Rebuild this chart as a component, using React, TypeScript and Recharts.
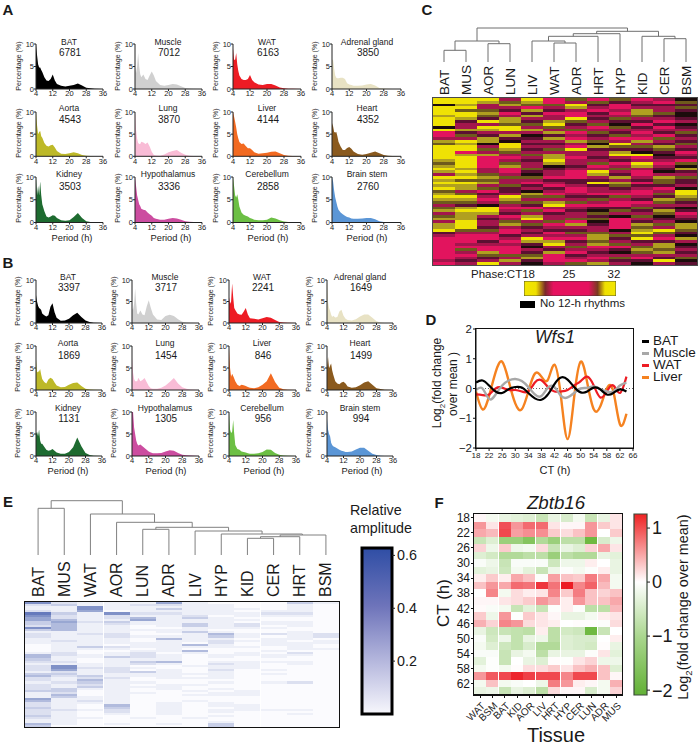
import React from 'react';
import { AreaChart, Area, BarChart, Bar, Cell, LineChart, Line, XAxis, YAxis, ReferenceLine } from 'recharts';

const FONT = '"Liberation Sans", Arial, sans-serif';
const INK = '#1a1a1a';

// ---------- Panels A / B : period histograms ----------
const periods = [4, 4.5, 5, 5.5, 6, 6.5, 7, 8, 9, 10, 11, 12, 13, 14, 16, 18, 20, 22, 24, 26, 28, 30, 32, 36];
const tissueNames = ['BAT', 'Muscle', 'WAT', 'Adrenal gland', 'Aorta', 'Lung', 'Liver', 'Heart', 'Kidney', 'Hypothalamus', 'Cerebellum', 'Brain stem'];
const tissueColors = ['#000000', '#d0d0d0', '#ed1c24', '#e8e2c4', '#bdb928', '#f9bcd6', '#f26a21', '#8a5a1e', '#1e6b30', '#cc4da0', '#6cbf44', '#5b96d6'];
const aCounts = [6781, 7012, 6163, 3850, 4543, 3870, 4144, 4352, 3503, 3336, 2858, 2760];
const bCounts = [3397, 3717, 2241, 1649, 1869, 1454, 846, 1499, 1131, 1305, 956, 994];

const aBAT = [10, 7.5, 5.5, 4.8, 4.8, 4.2, 3.8, 2.6, 1.9, 1.8, 2.2, 3.2, 1.9, 1.1, .7, .55, .7, .9, 1.2, .8, .3, .15, .05, 0];
const aMuscle = [5, 3.5, 5, 8, 5, 3.3, 2.6, 3.2, 2.2, 2, 3, 3.9, 3, 1.8, .9, .7, .9, 1.1, 1, .6, .25, .1, .05, 0];
const aWAT = [9, 6.5, 6.5, 8, 5.5, 4, 3, 2.2, 2, 2, 2.2, 3.1, 2, 1.5, 1, .9, 1.1, 1.1, .8, .35, .15, .08, .03, 0];
const aAdrenal = [6.5, 6.5, 4.5, 3, 2.5, 2.4, 2.4, 2.5, 2.5, 2.2, 1.3, 1, .9, .7, .7, .8, 1, 1.1, .8, .25, .1, .05, 0, 0];
const aAorta = [10, 7, 5, 5.5, 5.7, 4.5, 4.2, 3, 2.4, 2.2, 2.5, 2.6, 2, 1.2, .6, .5, .7, .9, .7, .3, .1, .05, 0, 0];
const aLung = [10, 6, 4, 3, 2.8, 2.8, 3.3, 3.1, 2.8, 3.1, 2.2, 1, .3, .2, .1, .4, .9, 1.2, 1.4, .8, .35, .15, .05, 0];
const aLiver = [10, 9, 7.8, 6.5, 5, 4, 3.2, 2.8, 2.9, 2.3, 1.8, 1.8, 1.4, .9, .6, .7, .8, 1, 1.1, .7, .3, .15, .05, 0];
const aHeart = [7.5, 6.8, 5.5, 5.4, 5.5, 4.5, 3.3, 2.2, 1.4, 1.4, 1.9, 2.1, 1.7, 1.1, .5, .35, .5, .8, 1.1, .7, .3, .15, .05, 0];
const aKidney = [10, 6, 8, 6, 9, 6, 4, 2.5, 1.3, 1.1, 1.3, 1.6, 1.5, 1, .5, .4, .5, 1.2, 2.1, 1, .3, .1, .05, 0];
const aHypo = [10, 8, 6, 5, 4, 3.6, 3, 2.8, 2.7, 2.2, 1.8, 1.5, 1, .8, .6, .6, .8, 1, .9, .6, .3, .15, .1, 0];
const aCereb = [10, 8, 6, 5.5, 6.2, 5, 3.5, 2.2, 1.7, 1.5, 1.3, 1, .8, .6, .5, .5, .6, 1.1, .9, .5, .2, .1, .05, 0];
const aBrain = [10, 9, 7, 5.5, 4.5, 3.5, 2.8, 2.2, 1.8, 1.5, 1.2, 1.1, .9, .8, .8, .9, 1, 1, .7, .3, .1, .05, 0, 0];
const aSeries = [aBAT, aMuscle, aWAT, aAdrenal, aAorta, aLung, aLiver, aHeart, aKidney, aHypo, aCereb, aBrain];

const bBAT = [6.5, 5, 4, 3.5, 3.3, 3, 2.2, 1.8, 1.5, 1.8, 3.8, 4.6, 2.5, 1.2, .5, .6, 1, 1.8, 2.4, 1.4, .6, .25, .05, 0];
const bMuscle = [3.5, 3, 4.5, 8, 4.5, 2.2, 2, 2.9, 2, 1.8, 3.8, 5.3, 3.5, 2, .8, .7, 1.6, 1.9, 1.6, .9, .3, .1, .03, 0];
const bWAT = [6, 4.5, 5, 9.2, 6, 3.5, 3, 2.2, 2, 1.9, 2.6, 3.5, 2, 1.1, 1, .8, 1.1, 1.4, 1.2, .7, .25, .1, .03, 0];
const bAdrenal = [10, 5, 3.5, 2.8, 2, 1.4, 1.7, 1.3, 1.4, 2.7, 3.1, 1.7, 1, .7, .6, .9, 1.5, 2, 2, 1.2, .4, .1, 0, 0];
const bAorta = [7, 4, 4.2, 4.2, 4.8, 3.5, 2.5, 1.8, 1.5, 2.4, 2.8, 2.5, 1.7, 1, .6, .7, 1.2, 1.6, 1.7, .9, .3, .1, .05, 0];
const bLung = [7.5, 4, 2.5, 2, 2, 2, 2.8, 2, 2.3, 2.7, 1.8, .9, .4, .3, .3, .5, 1, 1.8, 2.7, 1.5, .6, .3, .1, 0];
const bLiver = [9.5, 5, 3, 3.7, 3.2, 2.6, 2, 1.2, .9, 1.2, 1.1, .9, .7, .5, .4, .6, 1.2, 2, 3.8, 1.8, .5, .15, .05, 0];
const bHeart = [5, 7.5, 5, 5.5, 6, 4.5, 3.5, 2, 1.5, 1.3, 1.7, 1.9, 1.5, .8, .5, .6, 1.1, 1.7, 2, 1.2, .4, .2, .05, 0];
const bKidney = [5, 5.5, 4.5, 6, 3.5, 2.8, 2.8, 2.1, 1.4, 1.2, 1.3, 1.6, 1.2, .8, .5, .5, .9, 2, 4.2, 2.2, .7, .2, .05, 0];
const bHypo = [10, 10, 6.5, 5, 3.5, 2.8, 2.4, 2.6, 2.2, 1.8, 1.4, 1, .8, .6, .6, .7, 1, 1.3, 1.2, .7, .3, .15, .1, 0];
const bCereb = [10, 6, 5.2, 5.5, 8.2, 5, 2.5, 1.6, 1.4, 1, .9, .8, .6, .5, .5, .6, .9, 1.5, 1.4, .7, .3, .1, .03, 0];
const bBrain = [8.5, 6, 5, 4.5, 3, 2.5, 2.2, 2, 1.7, 1.4, 1.2, 1.1, .9, .9, 1, 1.5, 1.9, 1.9, 1.2, .5, .2, .05, 0, 0];
const bSeries = [bBAT, bMuscle, bWAT, bAdrenal, bAorta, bLung, bLiver, bHeart, bKidney, bHypo, bCereb, bBrain];

const aColX = [[36, 103], [135, 202], [233, 301], [332, 401]];
const aRowY = [[44, 89], [111.7, 156], [176.5, 222]];
const aTitleX = [69, 168, 267, 367];
const aTitleY = [42, 108, 174];
const aCountY = [53, 120, 187];
const aPeriodX = [72, 171, 268, 367];
const bColX = [[36, 102], [132, 199], [229, 296], [327, 393]];
const bRowY = [[280, 323], [346, 390], [412, 456]];
const bTitleX = [68, 165, 262, 360];
const bTitleY = [277, 343, 408];
const bCountY = [288, 356, 419];
const bPeriodX = [68, 166, 264, 362];

// ---------- Panel C : phase heat map (one code per gene row, per tissue) ----------
const cTissues = ['BAT', 'MUS', 'AOR', 'LUN', 'LIV', 'WAT', 'ADR', 'HRT', 'HYP', 'KID', 'CER', 'BSM'];
const phaseBAT = 'YYkYYYoYYYkYppmogYYYYYogoYomYo' + 'YoYgoYogmgomgomooYdmppppppppmp';
const phaseMUS = 'YYoYgYYodmmodgmYoYYpoYYYYoYoYg' + 'YoomgYogdoYoooYYYgmpppmpgmpmdm';
const phaseAOR = 'YommgogdYmYomdookmgmoppppmmgog' + 'omgpdmpmkYYomdmmdgmppdmppogdmY';
const phaseLUN = 'mgomdpmoogYYmodkYYogmpmgoppmgm' + 'mgddmYogmpmdpmgomppdmpmpppgmom';
const phaseLIV = 'Yogpodomdgmomkdmdmdmgmdmmgdkgm' + 'pdmkogmgdpgmoYmgdmdmYodkmdgodk';
const phaseWAT = 'ppgmdpmmoYgmodomdmgmooYokdmmpd' + 'mpdmpgmoYmpdmmgpmdpmpoYmdopppm';
const phaseADR = 'gmYomppYgdmgpmpompYmmpmmdmpppd' + 'dmppmdmgpmdmmgpomdgmpdmgmpdmpg';
const phaseHRT = 'pgdmpdmdmgpmgdmgkodmmdmgpmYomd' + 'Ydmmpdgmpdkgdgkdmmgoogopmdmpmo';
const phaseHYP = 'gdppmpmgdkgmdgpmYgdoYmdpmgmdom' + 'ogdmpgmppdgmkppppkmgdmgpdkmgdm';
const phaseKID = 'pmdmoogmdpdmpmpomgdkYpmYomppmd' + 'pdmppmdpmgdmgmdogoYgYdmgogmpdk';
const phaseCER = 'mpdmmgdmpdpmdpgmdogdkdmpmdkmog' + 'gdpmgdogmdogkdmgmYgmpdoogomdYm';
const phaseBSM = 'kgdgdkkdmkdmgdmdgmdpmdpgkodmgd' + 'dmkYYogdmkdpmdkoogdkomkdmdmgkd';
const phaseColumns = [phaseBAT, phaseMUS, phaseAOR, phaseLUN, phaseLIV, phaseWAT, phaseADR, phaseHRT, phaseHYP, phaseKID, phaseCER, phaseBSM];
const phaseFill: Record<string, string> = { Y: '#efe204', o: '#b0a020', g: '#6e5a1c', k: '#1c0c0c', d: '#5c1032', m: '#a3164c', p: '#e2145e' };
const cLinks = [[0, 0, 1, 0, 11.7], [2, 0, 3, 0, 18.3], [.5, 11.7, 2.5, 18.3, 21], [5, 0, 6, 0, 19], [4, 0, 5.5, 19, 21], [4.75, 21, 7, 0, 25.7], [5.875, 25.7, 8, 0, 28.3], [10, 0, 11, 0, 23.3], [9, 0, 10.5, 23.3, 25.7], [6.94, 28.3, 9.75, 25.7, 30.7], [1.5, 21, 8.34, 30.7, 34]];

// ---------- Panel D : Wfs1 ----------
const dCT = [18, 20, 22, 24, 26, 28, 30, 32, 34, 36, 38, 40, 42, 44, 46, 48, 50, 52, 54, 56, 58, 60, 62, 64];
const dBAT = [.2, .27, .1, -.1, -.15, -.02, .05, .03, -.15, -.33, -.38, -.2, .15, .37, .3, .05, -.13, -.1, .03, -.03, -.2, -.15, -.03, -.1];
const dMuscle = [-.05, 0, -.35, -.2, .1, .27, .32, .25, .05, -.2, -.25, .03, .05, -.25, -.3, -.15, 0, .02, .07, -.02, -.1, -.1, .1, .2];
const dWAT = [-.2, -.22, -.2, 0, .03, -.05, -.05, -.1, -.1, .2, .28, .05, -.1, -.1, -.05, .1, .25, .4, .1, -.3, -.1, .1, -.15, .4];
const dLiver = [-.1, -.7, -.25, .55, .9, .25, -.5, -.7, -.1, .5, .4, .3, .8, -.3, -1.7, -.3, .9, .2, -.7, -.6, 0, -.1, -1.2, -.85];
const dTicksX = [18, 22, 26, 30, 34, 38, 42, 46, 50, 54, 58, 62, 66];
const dTicksY = [-2, -1, 0, 1, 2];
const dLegend = [['BAT', '#000000'], ['Muscle', '#a8a8a8'], ['WAT', '#ed1c24'], ['Liver', '#f58220']];
const dLegendY = [341, 353, 365, 377];

// ---------- Panel E : relative amplitude (level per row, tissue order below) ----------
const eTissues = ['BAT', 'MUS', 'WAT', 'AOR', 'LUN', 'ADR', 'LIV', 'HYP', 'KID', 'CER', 'HRT', 'BSM'];
const eRows = [
  '621115100031', '231122110010', '116111110010', '116113111010', '215011110110',
  '731622111220', '621211201110', '521241310000', '541151111000', '352311110110',
  '341211312110', '241101312010', '641100111100', '341111100000', '111101310010',
  '212200141212', '211211131012', '111104110110', '121101121101', '111111020111',
  '011011410110', '013211111010', '011101000011', '010011400100', '120120101020',
  '421121011110', '411321010100', '310111000000', '220134011110', '111121021010',
  '261100111000', '262210011000', '251201020100', '121231010000', '331111110100',
  '423111010000', '212201110000', '214100000000', '123110010120', '212101100000',
  '213111000000', '231101010000', '330100101000', '120110011000', '140100111000',
  '131100000000', '511100000000', '412100100000', '211101010000', '210401011000',
  '310301001000', '221201011110', '210201010000', '210101000010', '310000010000',
  '211010100000', '110000000000', '110000010000', '410101030000', '300000030000',
];
const eLinks = [[0, 0, 1, 0, 46.7], [4, 0, 5, 0, 25.7], [8, 0, 9, 0, 16.7], [8.5, 16.7, 10, 0, 18.3], [9.25, 18.3, 11, 0, 20], [7, 0, 10.1, 20, 21], [6, 0, 8.56, 21, 24], [4.5, 25.7, 7.28, 24, 27.7], [3, 0, 5.89, 27.7, 32.7], [2, 0, 4.45, 32.7, 41], [.5, 46.7, 3.22, 41, 54.3]];
const eBarTicks = [0.2, 0.4, 0.6];

// ---------- Panel F : Zbtb16 ----------
const fTissues = ['WAT', 'BSM', 'BAT', 'KID', 'AOR', 'LIV', 'HRT', 'HYP', 'CER', 'LUN', 'ADR', 'MUS'];
const fCT = [18, 20, 22, 24, 26, 28, 30, 32, 34, 36, 38, 40, 42, 44, 46, 48, 50, 52, 54, 56, 58, 60, 62, 64];
const fRows = [
  [.05, -.1, -.2, -.25, -.3, -.5, -.2, -.35, -.1, -.5, -.2, .15],
  [.6, .15, 1, .6, .85, .85, .15, .05, .05, .6, .3, .15],
  [.5, .4, 1.05, .55, .65, .65, .3, .2, .35, .6, 0, .3],
  [-.5, -.3, -.9, -.9, -1.1, -.7, -.9, -.6, -.6, -1.3, -.35, -.15],
  [.25, -.15, .3, -.15, -.1, .2, -.5, -.2, -.3, .25, .5, .15],
  [-.3, -.4, -.7, -.7, -.6, -.6, -.9, -.6, -.7, -.7, -.2, -.25],
  [-.05, -.15, -.5, -.05, -.05, -.05, -.45, -.15, -.15, .1, 0, -.2],
  [-.25, -.2, -.45, -.1, -.25, -.5, -.15, -.03, -.1, -.03, .1, -.2],
  [.1, .3, .1, .5, .35, -.03, .55, .35, .3, .75, .5, -.1],
  [.35, .6, .5, .85, .8, 1.15, .8, 1.3, .7, .9, .4, -.1],
  [0, .7, -.1, .2, .1, .15, .7, .3, .75, .35, .25, .35],
  [.05, .05, .15, .2, .3, .6, .45, .1, .6, .35, .35, .5],
  [.03, -.05, -.1, -.5, -.25, -.5, -.02, .1, -.03, -.6, -.6, .4],
  [.3, -.15, .6, -.02, .3, .15, .05, -.2, -.2, -.1, .1, .15],
  [.45, .25, .7, .6, .2, .15, .1, 0, .02, .02, -.03, .2],
  [-.2, -.45, -.5, -.55, -.6, .1, -.6, -.4, -.45, -1.3, -.5, 0],
  [-.05, -.4, -.15, -.55, -.2, -.15, -.6, -.3, -.35, -.35, 0, .1],
  [-.1, -.3, -.45, -.55, -.35, -.7, -.7, -.3, -.35, -.4, .02, -.2],
  [-.05, -.05, -.5, -.2, -.1, -.6, -.2, -.2, -.2, -.03, .15, -.25],
  [-.25, -.02, -.5, 0, -.2, -.3, .02, -.02, .15, .25, -.15, -.15],
  [-.1, -.02, -.1, .02, .2, .2, .3, .15, .35, .45, .35, -.3],
  [.6, .95, 1.05, 1.25, 1.1, 1.05, 1.05, .7, 1.05, 1.05, .35, .05],
  [-.1, .35, -.1, -.05, 0, -.15, .75, .6, .1, .05, -.1, .45],
  [-.2, -.15, -.5, -.2, -.3, -.6, .2, .05, .05, -.35, -.1, .25],
];
const fBarTicks = [1, 0, -1, -2];

// ---------- helpers ----------
const mix = (a: number[], b: number[], t: number) => {
  const k = Math.max(0, Math.min(1, t));
  return `rgb(${a.map((v, i) => Math.round(v + (b[i] - v) * k)).join(',')})`;
};
const amplitudeFill = (level: number) => mix([251, 251, 254], [47, 75, 163], Math.pow(level / 9, 1.25));
const foldFill = (v: number) => (v >= 0 ? mix([255, 255, 255], [236, 28, 36], v / 1.3) : mix([255, 255, 255], [100, 180, 50], -v / 1.4));
const minus = (v: any) => String(v).replace('-', '\u2212');

function T({ x, y, size, children, rot = 0, anchor = 'middle', weight = 400, italic = false, lh = 1 }: any) {
  const tx = anchor === 'middle' ? '-50%' : '0';
  return (
    <div style={{ position: 'absolute', left: x, top: y, transform: `translate(${tx},-50%) rotate(${rot}deg)`, fontFamily: FONT, fontSize: size, lineHeight: lh, whiteSpace: 'nowrap', color: INK, fontWeight: weight, fontStyle: italic ? 'italic' : 'normal' }}>
      {children}
    </div>
  );
}
const Abs = ({ x, y, children }: any) => <div style={{ position: 'absolute', left: x, top: y }}>{children}</div>;
const Frame = ({ x, y, w, h, b, color }: any) => (
  <div style={{ position: 'absolute', left: x - b, top: y - b, width: w, height: h, border: `${b}px solid ${color}`, pointerEvents: 'none' }} />
);

function Mini({ xr, yr, color, values, title, count, tx, ty, cy, period, px, py, labelDx }: any) {
  const data = periods.map((p, i) => ({ p, v: values[i] }));
  const plotW = xr[1] - xr[0];
  const plotH = yr[1] - yr[0];
  const tick = { fontSize: 7.5, fontFamily: FONT, fill: INK };
  return (
    <>
      <Abs x={xr[0] - 26} y={yr[0] - 6}>
        <AreaChart width={26 + plotW + 10} height={6 + plotH + 15} data={data} margin={{ top: 6, right: 10, bottom: 0, left: 0 }}>
          <XAxis dataKey="p" type="number" domain={[4, 36]} ticks={[4, 12, 20, 28, 36]} interval={0} height={15} tick={tick} tickSize={2} tickMargin={0} stroke="#222" />
          <YAxis type="number" domain={[0, 10]} ticks={[0, 5, 10]} interval={0} width={26} tick={tick} tickSize={2} tickMargin={0} stroke="#222" />
          <Area dataKey="v" type="linear" fill={color} fillOpacity={1} stroke="none" isAnimationActive={false} dot={false} activeDot={false} />
        </AreaChart>
      </Abs>
      <T x={xr[0] - labelDx} y={(yr[0] + yr[1]) / 2 - 1} size={7.1} rot={-90}>Percentage (%)</T>
      <T x={tx} y={ty} size={8.5}>{title}</T>
      <T x={tx + 1} y={cy} size={10}>{count}</T>
      {period && <T x={px} y={py} size={9.3}>Period (h)</T>}
    </>
  );
}

const rotatedTop = (size: number, gap: number) => (p: any) => (
  <text x={p.x} y={p.y - gap} transform={`rotate(-90 ${p.x} ${p.y - gap})`} fontSize={size} fontFamily={FONT} fill={INK} textAnchor="start" dominantBaseline="central">
    {p.payload.value}
  </text>
);
const rotatedBottom = (p: any) => (
  <text x={p.x + 3} y={p.y + 4} transform={`rotate(-45 ${p.x + 3} ${p.y + 4})`} fontSize={10} fontFamily={FONT} fill={INK} textAnchor="end" dominantBaseline="central">
    {p.payload.value}
  </text>
);

function Heat({ cats, nRows, fill, w, h, top = 0, left = 0, bottom = 0, mt = 0, xAxis, yAxis }: any) {
  const keys = Array.from({ length: nRows }, (_, i) => `r${i}`);
  const data = cats.map((c: string) => {
    const o: any = { c };
    keys.forEach((k) => { o[k] = 1; });
    return o;
  });
  return (
    <BarChart width={left + w} height={mt + top + h + bottom} data={data} margin={{ top: mt, right: 0, bottom: 0, left: 0 }} barCategoryGap={0} style={{ shapeRendering: 'crispEdges' }}>
      {xAxis}
      {yAxis || <YAxis type="number" domain={[0, nRows]} reversed hide />}
      {keys.map((k, i) => (
        <Bar key={k} dataKey={k} stackId="s" isAnimationActive={false}>
          {cats.map((c: string, j: number) => <Cell key={c} fill={fill(i, j)} />)}
        </Bar>
      ))}
    </BarChart>
  );
}

function Dendro({ links, w, h, n, color }: any) {
  const segments = links.map((l: number[]) => [
    { x: l[0], y: l[1] }, { x: l[0], y: l[4] }, { x: l[2], y: l[4] }, { x: l[2], y: l[3] },
  ]);
  return (
    <LineChart width={w} height={h} margin={{ top: 0, right: 0, bottom: 0, left: 0 }}>
      <XAxis type="number" dataKey="x" domain={[-0.5, n - 0.5]} hide />
      <YAxis type="number" domain={[0, h]} hide />
      {segments.map((s: any, i: number) => (
        <Line key={i} data={s} dataKey="y" type="linear" stroke={color} strokeWidth={1} dot={false} activeDot={false} isAnimationActive={false} />
      ))}
    </LineChart>
  );
}

function VBar({ id, stops, lo, hi, ticks, w, h, axisW, font, stroke, sw, fmt }: any) {
  const pad = 2;
  const vPad = 10;
  return (
    <BarChart width={pad + w + axisW} height={h + vPad * 2} data={[{ n: 'scale', r: [lo, hi] }]} margin={{ top: vPad, right: 0, bottom: vPad, left: pad }} barCategoryGap={0}>
      <defs>
        <linearGradient id={id} x1="0" y1="0" x2="0" y2="1">
          {stops.map((s: any, i: number) => <stop key={i} offset={s[0]} stopColor={s[1]} />)}
        </linearGradient>
      </defs>
      <XAxis dataKey="n" hide />
      <YAxis orientation="right" type="number" domain={[lo, hi]} ticks={ticks} interval={0} width={axisW} axisLine={false} tick={{ fontSize: font, fontFamily: FONT, fill: INK }} tickSize={3} tickMargin={2} tickFormatter={fmt} stroke="#222" />
      <Bar dataKey="r" fill={`url(#${id})`} stroke={stroke} strokeWidth={sw} isAnimationActive={false} />
    </BarChart>
  );
}

const aPanels = tissueNames.map((t, i) => ({ t, i, col: i % 4, row: Math.floor(i / 4) }));

export default function App() {
  const dData = dCT.map((ct, i) => ({ ct, bat: dBAT[i], mus: dMuscle[i], wat: dWAT[i], liv: dLiver[i] }));
  const dTick = { fontSize: 8, fontFamily: FONT, fill: INK };
  return (
    <div style={{ position: 'absolute', left: 0, top: 0, width: 700, height: 745, overflow: 'hidden', background: '#fff', fontFamily: FONT }}>
      {/* Panel letters */}
      <T x={8} y={9} size={15} weight={700}>A</T>
      <T x={8} y={262} size={15} weight={700}>B</T>
      <T x={427} y={9} size={15} weight={700}>C</T>
      <T x={431} y={319} size={15} weight={700}>D</T>
      <T x={8} y={501} size={15} weight={700}>E</T>
      <T x={439} y={502} size={15} weight={700}>F</T>

      {/* A */}
      {aPanels.map(({ t, i, col, row }) => (
        <Mini key={`a${t}`} xr={aColX[col]} yr={aRowY[row]} color={tissueColors[i]} values={aSeries[i]} title={t} count={aCounts[i]}
          tx={aTitleX[col]} ty={aTitleY[row]} cy={aCountY[row]} period={row === 2} px={aPeriodX[col]} py={238.5} labelDx={16} />
      ))}
      {/* B */}
      {aPanels.map(({ t, i, col, row }) => (
        <Mini key={`b${t}`} xr={bColX[col]} yr={bRowY[row]} color={tissueColors[i]} values={bSeries[i]} title={t} count={bCounts[i]}
          tx={bTitleX[col]} ty={bTitleY[row]} cy={bCountY[row]} period={row === 2} px={bPeriodX[col]} py={472} labelDx={17} />
      ))}

      {/* C */}
      <Abs x={433} y={26}><Dendro links={cLinks} w={264} h={36} n={12} color="#6f6f6f" /></Abs>
      <Abs x={433} y={62}>
        <Heat cats={cTissues} nRows={60} w={264} h={167} top={36}
          fill={(i: number, j: number) => phaseFill[phaseColumns[j][i]]}
          xAxis={<XAxis dataKey="c" orientation="top" height={36} axisLine={false} tickLine={false} tickSize={0} tickMargin={0} interval={0} tick={rotatedTop(13.5, 3)} />} />
      </Abs>
      <Frame x={433} y={98} w={264} h={167} b={1.5} color="#4a4a4a" />
      <T x={503} y={275} size={11.5}>Phase:CT18</T>
      <T x={569} y={275} size={11.5}>25</T>
      <T x={614} y={275} size={11.5}>32</T>
      <Abs x={524} y={281}>
        <BarChart layout="vertical" width={92} height={15} data={[{ n: 'phase', r: [18, 32] }]} margin={{ top: 0, right: 0, bottom: 0, left: 0 }} barCategoryGap={0}>
          <defs>
            <linearGradient id="phaseGrad" x1="0" y1="0" x2="1" y2="0">
              <stop offset="0" stopColor="#f2e600" />
              <stop offset="0.13" stopColor="#efe000" />
              <stop offset="0.23" stopColor="#7a2a28" />
              <stop offset="0.32" stopColor="#e6125f" />
              <stop offset="0.7" stopColor="#e6125f" />
              <stop offset="0.8" stopColor="#7a3a20" />
              <stop offset="0.88" stopColor="#efe000" />
              <stop offset="1" stopColor="#f2e600" />
            </linearGradient>
          </defs>
          <XAxis type="number" domain={[18, 32]} hide />
          <YAxis type="category" dataKey="n" hide />
          <Bar dataKey="r" fill="url(#phaseGrad)" stroke="#333" strokeWidth={0.8} isAnimationActive={false} />
        </BarChart>
      </Abs>
      <div style={{ position: 'absolute', left: 520, top: 301, width: 15, height: 6.5, background: '#000' }} />
      <T x={540} y={304} size={11.5} anchor="start">No 12-h rhythms</T>

      {/* D */}
      <Abs x={446} y={319}>
        <LineChart width={30 + 157 + 12} height={10 + 119 + 16} data={dData} margin={{ top: 10, right: 12, bottom: 0, left: 0 }}>
          <XAxis dataKey="ct" type="number" domain={[18, 66]} ticks={dTicksX} interval={0} height={16} tick={dTick} tickSize={3} tickMargin={1} stroke="#111" />
          <YAxis type="number" domain={[-2, 2]} ticks={dTicksY} interval={0} width={30} tick={{ fontSize: 11.5, fontFamily: FONT, fill: INK }} tickSize={3} tickMargin={1} tickFormatter={minus} stroke="#111" />
          <ReferenceLine y={0} stroke="#666" strokeDasharray="1 2" />
          <Line dataKey="liv" type="natural" stroke="#f58220" strokeWidth={2.4} dot={false} activeDot={false} isAnimationActive={false} />
          <Line dataKey="wat" type="natural" stroke="#ed1c24" strokeWidth={2.2} dot={false} activeDot={false} isAnimationActive={false} />
          <Line dataKey="mus" type="natural" stroke="#a8a8a8" strokeWidth={2.4} dot={false} activeDot={false} isAnimationActive={false} />
          <Line dataKey="bat" type="natural" stroke="#000000" strokeWidth={2.2} dot={false} activeDot={false} isAnimationActive={false} />
        </LineChart>
      </Abs>
      <Frame x={476} y={329} w={157} h={119} b={1.5} color="#111" />
      <T x={555} y={338} size={17.5} italic>Wfs1</T>
      {dLegend.map(([n, c], i) => (
        <React.Fragment key={n}>
          <div style={{ position: 'absolute', left: 642, top: dLegendY[i] - 1.5, width: 7, height: 3, background: c }} />
          <T x={653} y={dLegendY[i]} size={13.5} anchor="start" lh={0.85}>{n}</T>
        </React.Fragment>
      ))}
      <T x={439} y={383} size={12} rot={-90}>Log<sub style={{ fontSize: 8 }}>2</sub>(fold change</T>
      <T x={453} y={384} size={12} rot={-90}>over mean )</T>
      <T x={555} y={470} size={11}>CT (h)</T>

      {/* E */}
      <Abs x={25.3} y={500}><Dendro links={eLinks} w={314} h={55} n={12} color="#808080" /></Abs>
      <Abs x={25.3} y={562}>
        <Heat cats={eTissues} nRows={60} w={314} h={125.5} top={40}
          fill={(i: number, j: number) => amplitudeFill(Number(eRows[i][j]))}
          xAxis={<XAxis dataKey="c" orientation="top" height={40} axisLine={false} tickLine={false} tickSize={0} tickMargin={0} interval={0} tick={rotatedTop(16, 5)} />} />
      </Abs>
      <Frame x={25.3} y={602} w={314} h={125.5} b={1.5} color="#111" />
      <T x={350} y={510} size={14.3} anchor="start">Relative</T>
      <T x={350} y={528} size={14.3} anchor="start">amplitude</T>
      <Abs x={360} y={538}>
        <VBar id="ampGrad" lo={0} hi={0.628} ticks={eBarTicks} w={30} h={166} axisW={40} font={14.3}
          stops={[[0, '#2f4ea5'], [0.35, '#6e74ba'], [0.7, '#b9bbdf'], [1, '#f7f7fc']]} stroke="#000" sw={3} />
      </Abs>

      {/* F */}
      <T x={556} y={503} size={18.7} italic>Zbtb16</T>
      <Abs x={444.3} y={506}>
        <Heat cats={fTissues} nRows={24} w={148.4} h={181} left={30} bottom={32} mt={8}
          fill={(i: number, j: number) => foldFill(fRows[i][j])}
          xAxis={<XAxis dataKey="c" height={32} interval={0} tick={rotatedBottom} tickSize={3} stroke="#111" />}
          yAxis={<YAxis type="number" domain={[0, 24]} reversed width={30} ticks={fCT.map((_, i) => i + 0.5).filter((_, i) => i % 2 === 0)} interval={0} tickFormatter={(v: number) => String(fCT[Math.floor(v)])} tick={{ fontSize: 12, fontFamily: FONT, fill: INK }} tickSize={3} tickMargin={1} stroke="#111" />} />
      </Abs>
      <Frame x={474.3} y={514} w={148.4} h={181} b={1.5} color="#111" />
      <T x={443} y={603} size={17} rot={-90}>CT (h)</T>
      <T x={556} y={735} size={20}>Tissue</T>
      <Abs x={632} y={504}>
        <VBar id="foldGrad" lo={-2.09} hi={1.26} ticks={fBarTicks} w={13} h={181} axisW={32} font={18}
          stops={[[0, '#ee2222'], [0.376, '#ffffff'], [0.68, '#a9d68d'], [1, '#62b136']]} stroke="#3a4a3a" sw={1.2} fmt={minus} />
      </Abs>
      <T x={685} y={607} size={14.4} rot={-90}>Log<sub style={{ fontSize: 9.5 }}>2</sub>(fold change over mean)</T>
    </div>
  );
}
